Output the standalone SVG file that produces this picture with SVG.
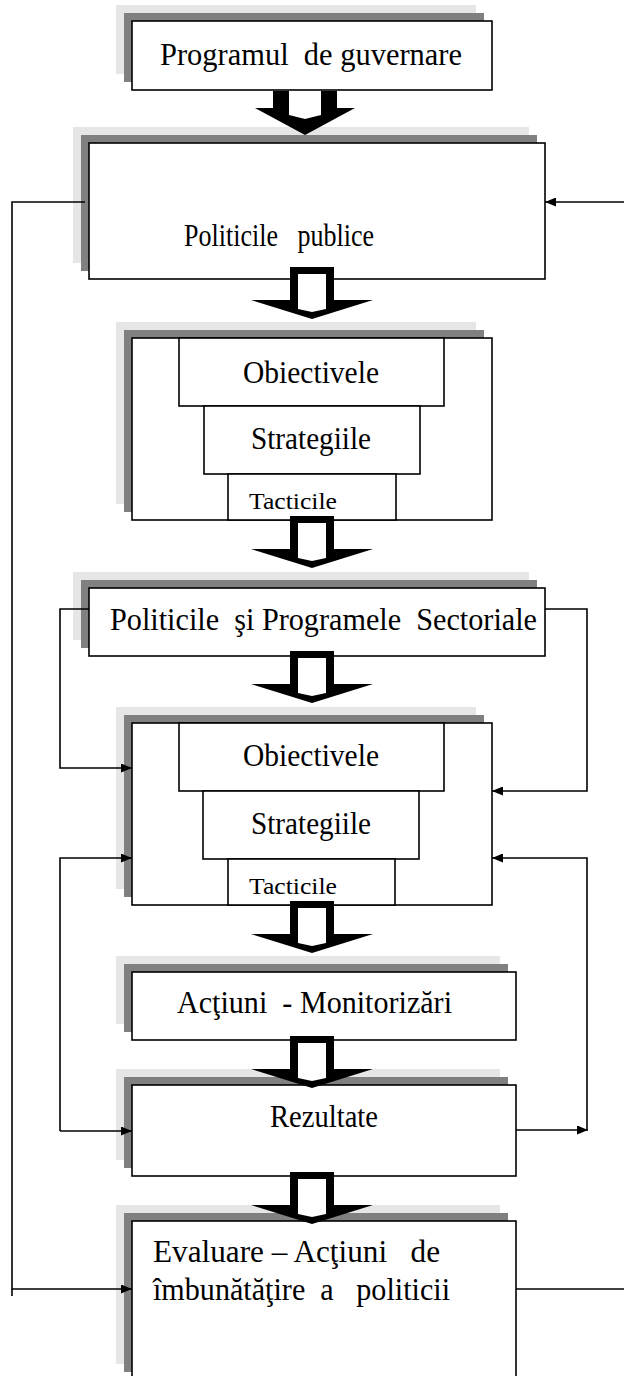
<svg xmlns="http://www.w3.org/2000/svg" width="624" height="1376" viewBox="0 0 624 1376">
  <style>
    .bg { fill: #ffffff; }
    .sh1 { fill: #e6e6e6; }
    .sh2 { fill: #808080; }
    .box { fill: #ffffff; stroke: #000000; stroke-width: 1.6; }
    .lbl { font-family: "Liberation Serif", "Times New Roman", serif; font-size: 32px; fill: #000000; white-space: pre; }
    .sm { font-size: 24px; }
    .ln { fill: none; stroke: #000000; stroke-width: 1.6; }
    .arw { fill: #000000; }
    .hole { fill: #ffffff; }
  </style>
  <defs>
    <marker id="head" markerUnits="userSpaceOnUse" markerWidth="11" markerHeight="9" refX="11" refY="4.5" orient="auto">
      <path d="M0,0 L11,4.5 L0,9 Z" fill="#000000"/>
    </marker>
    <!-- hollow block arrow pointing down, origin at top centre of the stem -->
    <g id="down">
      <path class="arw" d="M-22,0 H22 V33 H61 L0,52 L-61,33 H-22 Z"/>
      <path class="hole" d="M-14,7 H14 V42 L0,45 L-14,42 Z"/>
    </g>
  </defs>

  <rect class="bg" x="0" y="0" width="624" height="1376"/>

  <g id="programul">
    <rect class="sh1" x="116" y="5" width="360" height="69"/>
    <rect class="sh2" x="124" y="13" width="360" height="69"/>
    <rect class="box" x="132" y="21" width="360" height="69"/>
    <text class="lbl" x="160" y="65" textLength="302" lengthAdjust="spacingAndGlyphs">Programul  de guvernare</text>
  </g>

  <g id="politici-publice">
    <rect class="sh1" x="73" y="127" width="456" height="136"/>
    <rect class="sh2" x="81" y="135" width="456" height="136"/>
    <rect class="box" x="89" y="143" width="456" height="136"/>
    <text class="lbl" x="184" y="246" textLength="190" lengthAdjust="spacingAndGlyphs">Politicile   publice</text>
  </g>

  <g id="nivel-general">
    <rect class="sh1" x="116" y="322" width="360" height="182"/>
    <rect class="sh2" x="124" y="330" width="360" height="182"/>
    <rect class="box" x="132" y="338" width="360" height="182"/>
    <rect class="box" x="179" y="338" width="265" height="68"/>
    <rect class="box" x="204" y="406" width="216" height="68"/>
    <rect class="box" x="228" y="474" width="168" height="46"/>
    <text class="lbl" x="243" y="383" textLength="136" lengthAdjust="spacingAndGlyphs">Obiectivele</text>
    <text class="lbl" x="251" y="449" textLength="120" lengthAdjust="spacingAndGlyphs">Strategiile</text>
    <text class="lbl sm" x="249" y="509" textLength="88" lengthAdjust="spacingAndGlyphs">Tacticile</text>
  </g>

  <g id="politici-sectoriale">
    <rect class="sh1" x="73" y="572" width="456" height="68"/>
    <rect class="sh2" x="81" y="580" width="456" height="68"/>
    <rect class="box" x="89" y="588" width="456" height="68"/>
    <text class="lbl" x="110" y="630" textLength="427" lengthAdjust="spacingAndGlyphs">Politicile  şi Programele  Sectoriale</text>
  </g>

  <g id="nivel-sectorial">
    <rect class="sh1" x="116" y="707" width="360" height="182"/>
    <rect class="sh2" x="124" y="715" width="360" height="182"/>
    <rect class="box" x="132" y="723" width="360" height="182"/>
    <rect class="box" x="179" y="723" width="265" height="68"/>
    <rect class="box" x="203" y="791" width="216" height="68"/>
    <rect class="box" x="228" y="859" width="167" height="46"/>
    <text class="lbl" x="243" y="766" textLength="136" lengthAdjust="spacingAndGlyphs">Obiectivele</text>
    <text class="lbl" x="251" y="834" textLength="120" lengthAdjust="spacingAndGlyphs">Strategiile</text>
    <text class="lbl sm" x="249" y="894" textLength="88" lengthAdjust="spacingAndGlyphs">Tacticile</text>
  </g>

  <g id="actiuni">
    <rect class="sh1" x="116" y="956" width="384" height="68"/>
    <rect class="sh2" x="124" y="964" width="384" height="68"/>
    <rect class="box" x="132" y="972" width="384" height="68"/>
    <text class="lbl" x="177" y="1013" textLength="275" lengthAdjust="spacingAndGlyphs">Acţiuni  - Monitorizări</text>
  </g>

  <g id="rezultate">
    <rect class="sh1" x="116" y="1069" width="384" height="91"/>
    <rect class="sh2" x="124" y="1077" width="384" height="91"/>
    <rect class="box" x="132" y="1085" width="384" height="91"/>
    <text class="lbl" x="270" y="1127" textLength="108" lengthAdjust="spacingAndGlyphs">Rezultate</text>
  </g>

  <g id="evaluare">
    <rect class="sh1" x="116" y="1205" width="384" height="159"/>
    <rect class="sh2" x="124" y="1213" width="384" height="159"/>
    <rect class="box" x="132" y="1221" width="384" height="160"/>
    <text class="lbl" x="153" y="1262" textLength="287" lengthAdjust="spacingAndGlyphs">Evaluare – Acţiuni   de</text>
    <text class="lbl" x="153" y="1300" textLength="297" lengthAdjust="spacingAndGlyphs">îmbunătăţire  a   politicii</text>
  </g>

  <!-- feedback lines, drawn over the box shadows -->
  <g id="connectors">
    <path class="ln" d="M85,202 H12 V1289 H132" marker-end="url(#head)"/>
    <path class="ln" d="M12,1289 V1296"/>
    <path class="ln" d="M624,202 H545" marker-end="url(#head)"/>
    <path class="ln" d="M516,1289 H624"/>
    <path class="ln" d="M89,609 H60 V768 H132" marker-end="url(#head)"/>
    <path class="ln" d="M545,609 H587 V791 H492" marker-end="url(#head)"/>
    <path class="ln" d="M60,1131 V858 H132" marker-end="url(#head)"/>
    <path class="ln" d="M60,1131 H132" marker-end="url(#head)"/>
    <path class="ln" d="M587,1130 V858 H492" marker-end="url(#head)"/>
    <path class="ln" d="M516,1130 H588" marker-end="url(#head)"/>
  </g>

  <!-- block arrows between levels -->
  <g id="flow-arrows">
    <path class="arw" d="M273,91 H337 V108 H355 L305,135 L255,108 H273 Z"/>
    <path class="hole" d="M289,91 H321 V115 L305,119 L289,115 Z"/>
    <use href="#down" x="312" y="267"/>
    <use href="#down" x="312" y="516"/>
    <use href="#down" x="312" y="651"/>
    <use href="#down" x="312" y="901"/>
    <use href="#down" x="312" y="1036"/>
    <use href="#down" x="312" y="1172"/>
  </g>
</svg>
